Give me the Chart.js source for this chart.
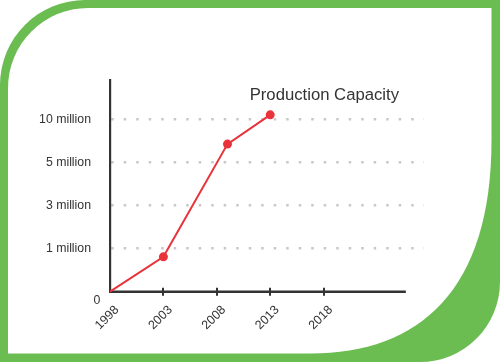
<!DOCTYPE html>
<html>
<head>
<meta charset="utf-8">
<script src="https://cdn.jsdelivr.net/npm/chart.js@4/dist/chart.umd.min.js"></script>
<style>
  html, body { margin: 0; padding: 0; background: #fff; }
  #wrap { width: 500px; height: 362px; position: relative; }
</style>
</head>
<body>
<div id="wrap"><canvas id="c"></canvas></div>
<script>
// ---- data ----
const titleText = 'Production Capacity';
const years = [1998, 2003, 2009, 2013];
const capacityLevel = [0, 0.81, 3.43, 4.11];   // position on the y scale (0 = "0", 1 = "1 million", ... 4 = "10 million")
const xTickValues = [1998, 2003, 2008, 2013, 2018];
const yTickValues = [0, 1, 2, 3, 4];
const yTickLabels = ['0', '1 million', '3 million', '5 million', '10 million'];
const xAxisEnd = 2025.7;

const FONT = '"Liberation Sans", Arial, sans-serif';
const TEXT = '#333333';

const framePlugin = {
  id: 'frame',
  beforeDraw(chart) {
    const ctx = chart.ctx;
    const W = chart.width, H = chart.height;
    ctx.save();
    ctx.fillStyle = '#ffffff';
    ctx.fillRect(0, 0, W, H);
    ctx.fillStyle = '#6bbd52';
    ctx.beginPath();
    ctx.moveTo(85, 0);
    ctx.lineTo(W, 0);
    ctx.lineTo(W, H - 80);
    ctx.arcTo(W, H, W - 80, H, 80);
    ctx.lineTo(0, H);
    ctx.lineTo(0, 85);
    ctx.arcTo(0, 0, 85, 0, 85);
    ctx.closePath();
    ctx.fill();
    ctx.fillStyle = '#ffffff';
    ctx.beginPath();
    ctx.moveTo(88, 8);
    ctx.lineTo(491.5, 8);
    ctx.lineTo(491.5, 140);
    ctx.bezierCurveTo(491.5, 290, 420, 353.5, 310, 353.5);
    ctx.lineTo(8, 353.5);
    ctx.lineTo(8, 88);
    ctx.arcTo(8, 8, 88, 8, 80);
    ctx.closePath();
    ctx.fill();
    ctx.restore();
  },
  beforeDatasetsDraw(chart) {
    const { ctx, chartArea, scales: { x } } = chart;
    const yb = chartArea.bottom;
    ctx.save();
    ctx.strokeStyle = TEXT;
    ctx.lineWidth = 2.5;
    ctx.beginPath();
    ctx.moveTo(chartArea.left - 1, yb);
    ctx.lineTo(x.getPixelForValue(xAxisEnd), yb);
    ctx.stroke();
    ctx.lineWidth = 2;
    ctx.beginPath();
    xTickValues.slice(1).forEach(v => {
      const px = Math.round(x.getPixelForValue(v));
      ctx.moveTo(px, yb - 4);
      ctx.lineTo(px, yb + 4);
    });
    ctx.stroke();
    ctx.fillStyle = TEXT;
    ctx.font = '12.3px ' + FONT;
    ctx.textAlign = 'center';
    ctx.textBaseline = 'middle';
    ctx.fillText(yTickLabels[0], chartArea.left - 13, yb + 8.5);
    ctx.font = '16.7px ' + FONT;
    ctx.textAlign = 'right';
    ctx.textBaseline = 'alphabetic';
    ctx.fillText(titleText, chartArea.right - 25, chartArea.top + 20);
    ctx.restore();
  }
};

new Chart(document.getElementById('c'), {
  type: 'line',
  data: {
    datasets: [{
      data: years.map((yr, i) => ({ x: yr, y: capacityLevel[i] })),
      borderColor: '#e8333b',
      backgroundColor: '#e8333b',
      borderWidth: 2,
      pointRadius: [0, 4.5, 4.5, 4.5],
      pointHoverRadius: 4.5,
      pointBorderWidth: 0,
      tension: 0,
      clip: false
    }]
  },
  options: {
    responsive: true,
    maintainAspectRatio: false,
    animation: false,
    events: [],
    layout: { padding: { left: 0, top: 80, right: 76, bottom: 0 } },
    plugins: { legend: { display: false }, tooltip: { enabled: false }, title: { display: false } },
    scales: {
      x: {
        type: 'linear',
        min: 1998,
        max: 2027.4,
        afterBuildTicks: s => { s.ticks = xTickValues.map(v => ({ value: v })); },
        afterFit: s => { s.height = 70.3; },
        grid: { display: false },
        border: { display: false },
        ticks: {
          autoSkip: false,
          minRotation: 45,
          maxRotation: 45,
          padding: 3,
          labelOffset: 7,
          color: TEXT,
          font: { family: FONT, size: 12.5 },
          callback: v => String(v)
        }
      },
      y: {
        type: 'linear',
        min: 0,
        max: 4.92,
        afterBuildTicks: s => { s.ticks = yTickValues.map(v => ({ value: v })); },
        afterFit: s => { s.width = 110; },
        grid: {
          drawTicks: false,
          lineWidth: 2.5,
          color: c => (c.tick && c.tick.value === 0) ? 'rgba(0,0,0,0)' : '#c8c8c8'
        },
        border: { display: true, color: TEXT, width: 2.2, dash: [2.5, 10] },
        ticks: {
          padding: 19,
          color: TEXT,
          font: { family: FONT, size: 12.3 },
          callback: v => { const i = yTickValues.indexOf(v); return i > 0 ? yTickLabels[i] : ''; }
        }
      }
    }
  }
  ,
  plugins: [framePlugin]
});
</script>
</body>
</html>
